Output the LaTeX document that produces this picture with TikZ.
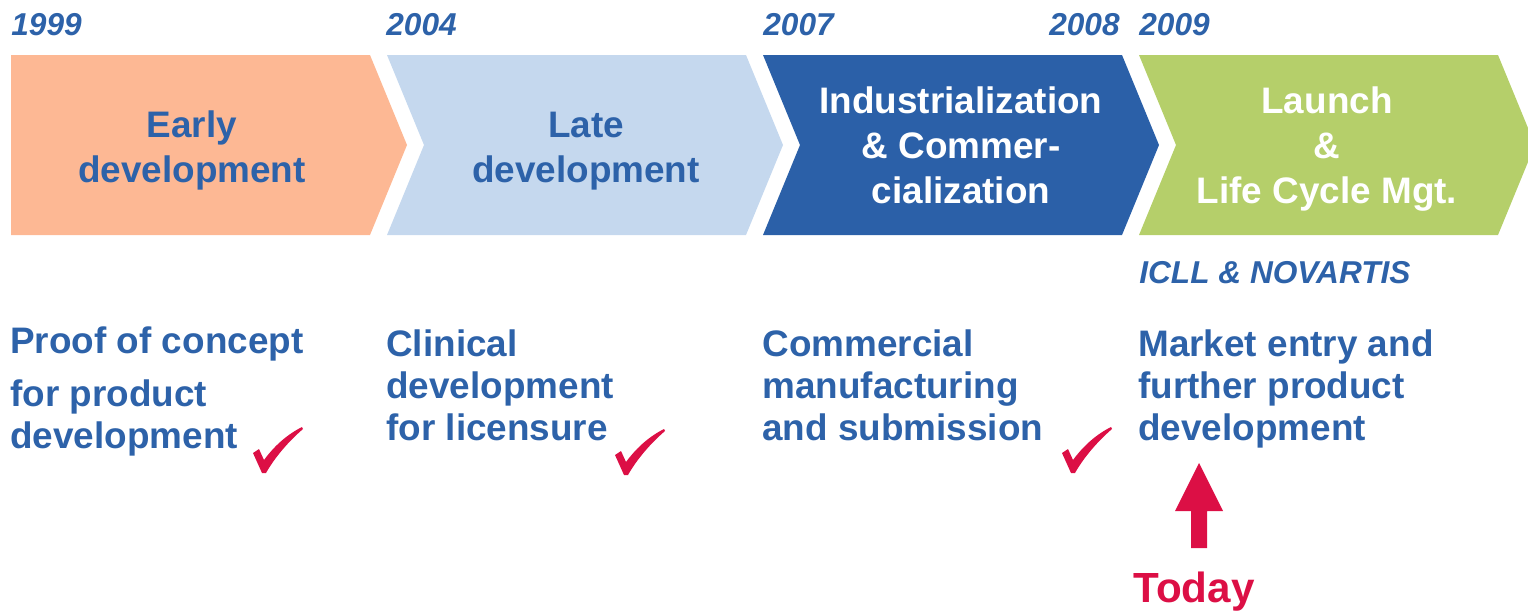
\documentclass[tikz,border=0pt]{standalone}
\usepackage{fontspec}
\setmainfont{Liberation Sans}
\definecolor{cOrange}{HTML}{FDB894}
\definecolor{cLight}{HTML}{C5D8EE}
\definecolor{cDark}{HTML}{2B60A8}
\definecolor{cGreen}{HTML}{B5CF6A}
\definecolor{cText}{HTML}{2D62A9}
\definecolor{cRed}{HTML}{DC0F45}
\begin{document}
\begin{tikzpicture}[x=0.02cm,y=-0.02cm,
  yearlbl/.style={inner sep=0pt,anchor=base west,text=cText,font=\fontsize{18}{21}\selectfont\bfseries\itshape},
  chevlbl/.style={inner sep=0pt,anchor=base,align=center,font=\fontsize{21}{25.5}\selectfont\bfseries},
  desclbl/.style={inner sep=0pt,anchor=base west,align=left,text=cText,font=\fontsize{21}{23.8}\selectfont\bfseries},
  chk/.pic={\fill[cRed] (0,0) -- (6,-4) -- (11,7) .. controls (22,-8) and (35,-19) .. (49,-26) -- (50,-24) .. controls (36,-12) and (22,4) .. (13,20) -- (9,20) -- cycle;}
]
\useasboundingbox (0,0) rectangle (1528,610);
% chevrons
\fill[cOrange] (11,55) -- (370,55) -- (407,145) -- (370,235) -- (11,235) -- cycle;
\fill[cLight] (387,55) -- (746,55) -- (783,145) -- (746,235) -- (387,235) -- (424,145) -- cycle;
\fill[cDark] (763,55) -- (1122,55) -- (1159,145) -- (1122,235) -- (763,235) -- (800,145) -- cycle;
\fill[cGreen] (1139,55) -- (1498,55) -- (1535,145) -- (1498,235) -- (1139,235) -- (1176,145) -- cycle;
% years
\node[yearlbl] (y1999) at (11,35) {1999};
\node[yearlbl] (y2004) at (386,35) {2004};
\node[yearlbl] (y2007) at (763,35) {2007};
\node[yearlbl,anchor=base east] (y2008) at (1120,35) {2008};
\node[yearlbl] (y2009) at (1139,35) {2009};
% chevron labels (base anchor = last line)
\node[chevlbl,text=cText] (early) at (192,182) {Early\\development};
\node[chevlbl,text=cText] (late) at (586,182) {Late\\development};
\node[chevlbl,text=white] (ind) at (961,203) {Industrialization\\\& Commer-\\cialization};
\node[chevlbl,text=white] (launch) at (1327,203) {Launch\\\&\\Life Cycle Mgt.};
% partner
\node[yearlbl] (icll) at (1139,283) {ICLL \& NOVARTIS};
% descriptions (base anchor = last line)
\node[desclbl] (d1) at (10,448) {Proof of concept\\[6.4pt]for product\\development};
\node[desclbl] (d2) at (386,440) {Clinical\\development\\for licensure};
\node[desclbl] (d3) at (762,440) {Commercial\\manufacturing\\and submission};
\node[desclbl] (d4) at (1138,440) {Market entry and\\further product\\development};
% checks
\pic at (253,453) {chk};
\pic at (615,455) {chk};
\pic at (1062,453) {chk};
% today arrow
\fill[cRed] (1199,463) -- (1223,511) -- (1207,511) -- (1207,548) -- (1191,548) -- (1191,511) -- (1175,511) -- cycle;
\node[inner sep=0pt,anchor=base,text=cRed,font=\fontsize{24}{28}\selectfont\bfseries] (today) at (1194,602) {Today};
\end{tikzpicture}
\end{document}
